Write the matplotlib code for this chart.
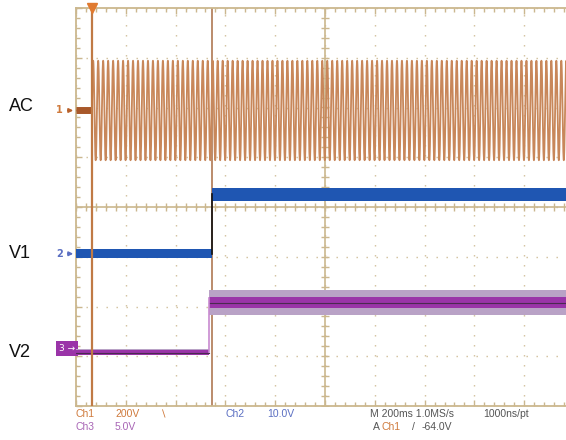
import numpy as np
import matplotlib
matplotlib.use("Agg")
import matplotlib.pyplot as plt
from matplotlib.transforms import blended_transform_factory

# ---------------- data ----------------
# horizontal: 10 div x 200 ms = 2 s of screen time
screen_time_s = 2.0
time_per_div_s = 0.2
trigger_time_s = 0.064      # AC switched on / trigger point
switch_time_s = 0.548       # V1 step
v2_edge_time_s = 0.536      # V2 step

# channel settings: volts per division, ground marker position (div)
ch1_scale_v, ch1_ground_div = 200.0, 1.94
ch2_scale_v, ch2_ground_div = 10.0, -0.94
ch3_scale_v, ch3_ground_div = 5.0, -2.90

# Ch1: AC mains
ac_freq_hz = 50.0
ac_peak_v = 200.0

# Ch2: V1 (step series)
v1_times = [0.0, switch_time_s, switch_time_s, screen_time_s]
v1_levels = [0.0, 0.0, 12.0, 12.0]
v1_noise_pp = [1.8, 1.8, 2.6, 2.6]

# Ch3: V2 (step series)
v2_times = [0.0, v2_edge_time_s, v2_edge_time_s, screen_time_s]
v2_levels = [-0.1, -0.1, 4.9, 4.9]
v2_core_pp = [0.45, 0.45, 1.2, 1.2]
v2_fuzz_pp = [0.6, 0.6, 2.5, 2.5]

trace_labels = ["AC", "V1", "V2"]
status_row1 = [("Ch1", 76, "#cf7a3c"), ("200V", 115, "#cf7a3c"), ("\u2216", 160, "#cf7a3c"),
               ("Ch2", 225, "#5b6fc2"), ("10.0V", 267, "#5b6fc2"),
               ("M 200ms 1.0MS/s", 370, "#555555"), ("1000ns/pt", 483, "#555555")]
status_row2 = [("Ch3", 76, "#a865b5"), ("5.0V", 115, "#a865b5"),
               ("A", 373, "#555555"), ("Ch1", 382, "#cf7a3c"), ("/", 412, "#555555"),
               ("-64.0V", 422, "#555555")]

# ---------------- styling ----------------
W, H = 566, 440
grat = "#cbb78e"
c_ac = "#c8875a"
c_blue = "#1f56b2"
c_purple = "#9a34a8"
c_lav = "#b9a2c6"

fig = plt.figure(figsize=(W / 100, H / 100), dpi=100)
fig.patch.set_facecolor("white")
ax = fig.add_axes([76 / W, 34 / H, 498 / W, 398 / H])
ax.set_xlim(0, screen_time_s)
ax.set_ylim(-4, 4)
ax.set_facecolor("white")

# graticule
ax.set_xticks(np.arange(0, screen_time_s + 1e-9, time_per_div_s))
ax.set_xticks(np.arange(0, screen_time_s + 1e-9, time_per_div_s / 5), minor=True)
ax.set_yticks(np.arange(-4, 4.01, 1))
ax.set_yticks(np.arange(-4, 4.01, 0.2), minor=True)
ax.tick_params(which="both", direction="in", top=True, bottom=True, left=True, right=False,
               labelbottom=False, labelleft=False, color=grat, width=1.0)
ax.tick_params(which="major", length=4.5)
ax.tick_params(which="minor", length=2.6)
for s in ["left", "top", "bottom"]:
    ax.spines[s].set_color(grat)
    ax.spines[s].set_linewidth(1.3)
ax.spines["right"].set_visible(False)
ax.grid(which="major", color=grat, linestyle=(0, (1.0, 6.2)), linewidth=1.0, alpha=0.9)
ax.axhline(0, color=grat, lw=1.2, zorder=1)
ax.axvline(screen_time_s / 2, color=grat, lw=1.2, zorder=1)
mx = np.arange(0, screen_time_s + 1e-9, time_per_div_s / 5)
my = np.arange(-4, 4.01, 0.2)
ax.plot(mx, np.zeros_like(mx), ls="none", marker="|", ms=5.5, mew=1.0, color=grat, zorder=1)
ax.plot(np.full_like(my, screen_time_s / 2), my, ls="none", marker="_", ms=5.5, mew=1.0,
        color=grat, zorder=1)

# Ch1 AC trace
t = np.linspace(0, screen_time_s, 24000)
ac_v = np.where(t < trigger_time_s, 0.0,
                ac_peak_v * np.sin(2 * np.pi * ac_freq_hz * (t - trigger_time_s)))
ax.plot(t, ch1_ground_div + ac_v / ch1_scale_v, color=c_ac, lw=1.3, zorder=3)
pre = t < trigger_time_s
ax.plot(t[pre], np.full(pre.sum(), ch1_ground_div), color="#a8582a", lw=5, zorder=3,
        solid_capstyle="butt")

# cursor-like vertical lines
ax.axvline(trigger_time_s, color="#c07a45", lw=1.6, zorder=5)
ax.axvline(switch_time_s, color="#a86c44", lw=1.1, zorder=2)
ax.plot([trigger_time_s], [4], marker="v", ms=7, color="#e07a30", clip_on=False, zorder=6)

# Ch2 V1
v1_t = np.array(v1_times)
v1_c = ch2_ground_div + np.array(v1_levels) / ch2_scale_v
v1_h = np.array(v1_noise_pp) / 2 / ch2_scale_v
ax.fill_between(v1_t[:2], (v1_c - v1_h)[:2], (v1_c + v1_h)[:2], color=c_blue, lw=0, zorder=4)
ax.fill_between(v1_t[2:], (v1_c - v1_h)[2:], (v1_c + v1_h)[2:], color=c_blue, lw=0, zorder=4)
ax.plot(v1_t[1:3], v1_c[1:3], color="#111111", lw=1.2, zorder=4)

# Ch3 V2
v2_t = np.array(v2_times)
v2_c = ch3_ground_div + np.array(v2_levels) / ch3_scale_v
v2_f = np.array(v2_fuzz_pp) / 2 / ch3_scale_v
v2_k = np.array(v2_core_pp) / 2 / ch3_scale_v
for sl in (slice(0, 2), slice(2, 4)):
    ax.fill_between(v2_t[sl], (v2_c - v2_f)[sl], (v2_c + v2_f)[sl], color=c_lav, lw=0, zorder=4)
    ax.fill_between(v2_t[sl], (v2_c - v2_k)[sl], (v2_c + v2_k)[sl], color=c_purple, lw=0, zorder=4)
    ax.plot(v2_t[sl], v2_c[sl] - 0.01, color="#4a2a50", lw=0.8, zorder=4)
ax.plot(v2_t[1:3], v2_c[1:3] + np.array([0, 0.1]), color="#c88ad0", lw=1.2, zorder=4)

# channel ground markers
bt = blended_transform_factory(ax.transAxes, ax.transData)
ax.text(-0.026, ch1_ground_div, "1", transform=bt, ha="right", va="center",
        color="#cf7a3c", fontsize=7, fontweight="bold", family=["DejaVu Sans"])
ax.annotate("", xy=(0.0, ch1_ground_div), xycoords=bt, xytext=(-0.022, ch1_ground_div),
            textcoords=bt, arrowprops=dict(arrowstyle="-|>", color="#b8622c", lw=1.2,
                                           mutation_scale=6), annotation_clip=False)
ax.text(-0.026, ch2_ground_div, "2", transform=bt, ha="right", va="center",
        color="#5b6fc2", fontsize=7, fontweight="bold", family=["DejaVu Sans"])
ax.annotate("", xy=(0.0, ch2_ground_div), xycoords=bt, xytext=(-0.022, ch2_ground_div),
            textcoords=bt, arrowprops=dict(arrowstyle="-|>", color="#5b6fc2", lw=1.2,
                                           mutation_scale=6), annotation_clip=False)
ax.text(-0.002, ch3_ground_div + 0.05, "3 \u2192", transform=bt, ha="right", va="center",
        color="white", fontsize=6.5, family=["DejaVu Sans"],
        bbox=dict(facecolor=c_purple, edgecolor="none", pad=2.2))

# left trace labels
for lab, ypx in zip(trace_labels, [106, 254, 352]):
    fig.text(9 / W, 1 - ypx / H, lab, ha="left", va="center", fontsize=13,
             family=["Liberation Sans", "DejaVu Sans"], color="#111111")

# status bar
for row, ypx in ((status_row1, 414), (status_row2, 427)):
    for txt, xpx, col in row:
        fig.text(xpx / W, 1 - ypx / H, txt, ha="left", va="center", fontsize=7.5,
                 color=col, family=["Liberation Sans Narrow", "Liberation Sans", "DejaVu Sans"])

fig.savefig("out.png", dpi=100, facecolor="white")
